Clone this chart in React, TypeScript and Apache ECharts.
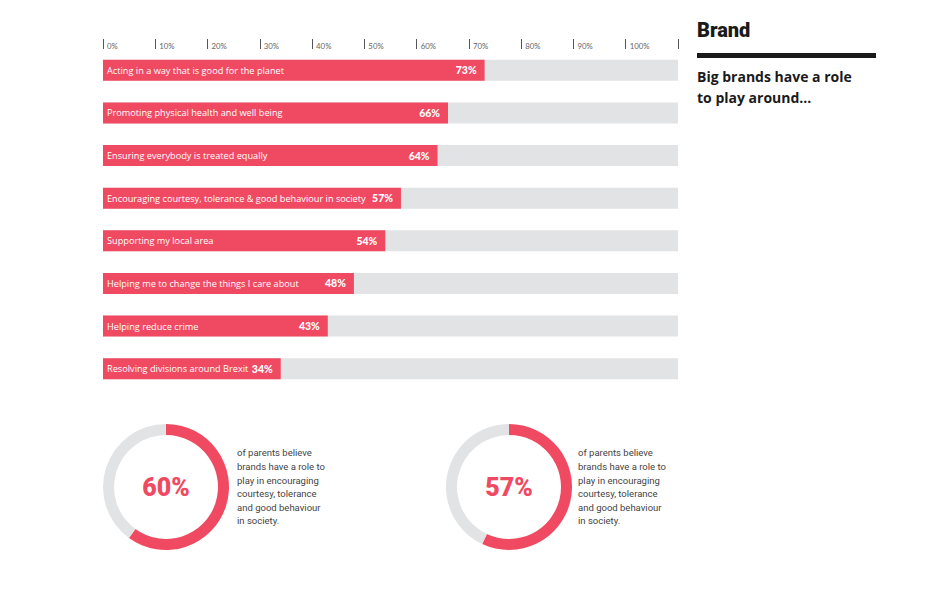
import React, { useEffect, useRef } from "react";
import * as echarts from "echarts";

const categories = [
  "Acting in a way that is good for the planet",
  "Promoting physical health and well being",
  "Ensuring everybody is treated equally",
  "Encouraging courtesy, tolerance & good behaviour in society",
  "Supporting my local area",
  "Helping me to change the things I care about",
  "Helping reduce crime",
  "Resolving divisions around Brexit",
];
const values = [73, 66, 64, 57, 54, 48, 43, 34];
const tickLabels = ["0%", "10%", "20%", "30%", "40%", "50%", "60%", "70%", "80%", "90%", "100%", ""];
const donutValues = [60, 57];
const donutText = [
  "of parents believe\nbrands have a role to\nplay in encouraging\ncourtesy, tolerance\nand good behaviour\nin society.",
  "of parents believe\nbrands have a role to\nplay in encouraging\ncourtesy, tolerance\nand good behaviour\nin society.",
];
const title = "Brand";
const subtitle = "Big brands have a role\nto play around...";

const RED = "#F04A62";
const GREY = "#E2E3E4";
const FONT = "Roboto, 'Noto Sans', sans-serif";
const FONT2 = "Lato, Roboto, sans-serif";
const FONT3 = "'Open Sans', Lato, sans-serif";

export default function App() {
  const ref = useRef<HTMLDivElement>(null);
  useEffect(() => {
    document.body.style.margin = "0";
    const chart = echarts.init(ref.current!, null, { renderer: "svg" });
    const donutCenters = [
      [166, 487],
      [509, 487],
    ];
    const textX = [237, 578];
    chart.setOption({
      animation: false,
      textStyle: { fontFamily: FONT },
      grid: { left: 103, width: 575, top: 49, height: 341 },
      xAxis: {
        type: "value",
        position: "top",
        min: 0,
        max: 110,
        interval: 10,
        splitLine: { show: false },
        axisLine: { show: false },
        axisTick: { show: true, length: 10, lineStyle: { color: "#555", width: 1 } },
        axisLabel: {
          show: true,
          align: "left",
          margin: -1,
          padding: [0, 0, 0, 4],
          color: "#666",
          fontSize: 7.8,
          fontFamily: FONT2,
          formatter: (v: number) => tickLabels[Math.round(v / 10)] ?? "",
        },
      },
      yAxis: {
        type: "category",
        data: categories,
        inverse: true,
        axisLine: { show: false },
        axisTick: { show: false },
        axisLabel: { show: false },
      },
      series: [
        {
          type: "bar",
          data: values,
          barWidth: 21,
          itemStyle: { color: RED },
          showBackground: true,
          backgroundStyle: { color: GREY },
          label: {
            show: true,
            position: "insideLeft",
            distance: 4,
            color: "#fff",
            fontSize: 9.2,
            fontFamily: FONT3,
            formatter: (p: any) => categories[p.dataIndex],
          },
          silent: true,
        },
        {
          type: "bar",
          data: values,
          barWidth: 21,
          barGap: "-100%",
          itemStyle: { color: "transparent" },
          label: {
            show: true,
            position: "insideRight",
            distance: 8,
            color: "#fff",
            fontSize: 10.5,
            fontWeight: 900,
            fontFamily: FONT2,
            formatter: "{c}%",
          },
          silent: true,
        },
        ...donutValues.map((v, i) => ({
          type: "pie",
          center: donutCenters[i],
          radius: [52, 63],
          startAngle: 90,
          clockwise: true,
          silent: true,
          labelLine: { show: false },
          data: [
            {
              value: v,
              itemStyle: { color: RED },
              label: {
                show: true,
                position: "center",
                formatter: "{c}%",
                color: RED,
                fontSize: 25,
                fontWeight: 900,
                fontFamily: FONT,
              },
            },
            { value: 100 - v, itemStyle: { color: GREY }, label: { show: false } },
          ],
        })),
      ],
      graphic: [
        {
          type: "text",
          left: 697,
          top: 20,
          style: { text: title, fontSize: 20, fontWeight: 900, fill: "#1a1a1a", fontFamily: FONT },
        },
        {
          type: "rect",
          shape: { x: 697, y: 53, width: 179, height: 5 },
          style: { fill: "#1a1a1a" },
        },
        {
          type: "text",
          left: 697,
          top: 66,
          style: {
            text: subtitle,
            fontSize: 14,
            fontWeight: "bold",
            lineHeight: 21,
            fill: "#1a1a1a",
            fontFamily: FONT3,
          },
        },
        ...donutText.map((t, i) => ({
          type: "text",
          left: textX[i],
          top: 446,
          style: {
            text: t,
            fontSize: 9.5,
            lineHeight: 13.6,
            fill: "#444",
            fontFamily: FONT,
          },
        })),
      ],
    });
    return () => chart.dispose();
  }, []);
  return <div ref={ref} style={{ width: 939, height: 604 }} />;
}
